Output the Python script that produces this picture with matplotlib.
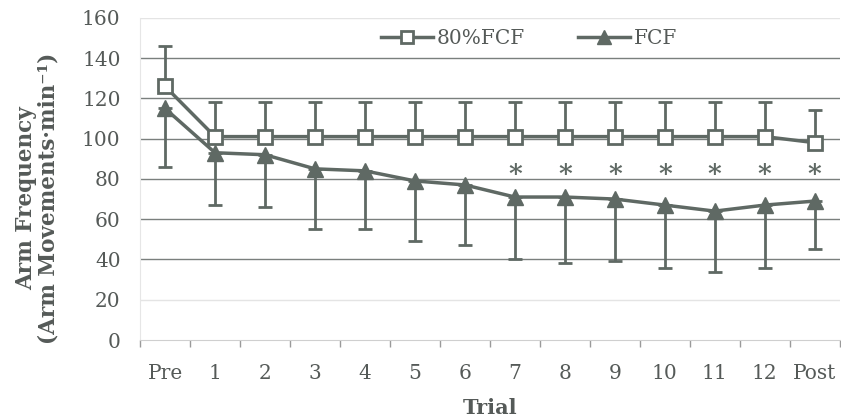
import matplotlib.pyplot as plt
from matplotlib.lines import Line2D
import numpy as np

# data
trials = ['Pre', '1', '2', '3', '4', '5', '6', '7', '8', '9', '10', '11', '12', 'Post']
fcf80 = [126, 101, 101, 101, 101, 101, 101, 101, 101, 101, 101, 101, 101, 98]
fcf80_up = [20, 17, 17, 17, 17, 17, 17, 17, 17, 17, 17, 17, 17, 16]
fcf = [115, 93, 92, 85, 84, 79, 77, 71, 71, 70, 67, 64, 67, 69]
fcf_down = [29, 26, 26, 30, 29, 30, 30, 31, 33, 31, 31, 30, 31, 24]
star_trials = ['7', '8', '9', '10', '11', '12', 'Post']
star_y = 82

col = '#5f6964'
txt = '#555a58'

plt.rcParams['font.family'] = ['DejaVu Serif']

fig = plt.figure(figsize=(8.41, 4.19), dpi=100)
ax = fig.add_axes([0.1665, 0.1885, 0.832, 0.769])

x = np.arange(len(trials))

ax.errorbar(x, fcf80, yerr=[np.zeros(len(x)), fcf80_up], color=col, lw=2.5,
            marker='s', ms=10, mfc='white', mec=col, mew=2, capsize=5,
            elinewidth=2, capthick=2, zorder=3)
ax.errorbar(x, fcf, yerr=[fcf_down, np.zeros(len(x))], color=col, lw=2.5,
            marker='^', ms=12, mfc=col, mec=col, capsize=5,
            elinewidth=2, capthick=2, zorder=3)

for t in star_trials:
    ax.text(trials.index(t), star_y, '*', ha='center', va='center',
            fontsize=19, color=col, fontweight='bold')

ax.set_xlim(-0.5, len(trials) - 0.5)
ax.set_ylim(0, 160)
ax.set_yticks(np.arange(0, 161, 20))
ax.set_xticks(x)
ax.set_xticklabels(trials)
ax.set_xticks(np.arange(-0.5, len(trials), 1), minor=True)

for v in range(40, 141, 20):
    ax.axhline(v, color='#7a7f7d', lw=1, zorder=1)
for v in (20, 160):
    ax.axhline(v, color='#e4e4e4', lw=1, zorder=1)

for s in ['top', 'right']:
    ax.spines[s].set_visible(False)
ax.spines['left'].set_color('#e6e6e6')
ax.spines['bottom'].set_color('#cfcfcf')

ax.tick_params(axis='x', which='major', length=0, pad=17, labelsize=14.5, labelcolor=txt)
ax.tick_params(axis='x', which='minor', length=5, color='#9a9a9a', width=1)
ax.tick_params(axis='y', length=0, pad=14, labelsize=14.5, labelcolor=txt)

ax.set_xlabel('Trial', fontsize=15, fontweight='bold', color=txt, labelpad=11)
ax.set_ylabel('Arm Frequency\n(Arm Movements·min⁻¹)', fontsize=15.5,
              fontweight='bold', color=txt, linespacing=1.05)
ax.yaxis.set_label_coords(-0.115, 0.44)

handles = [Line2D([], [], color=col, lw=2.5, marker='s', ms=9, mfc='white', mec=col, mew=2),
           Line2D([], [], color=col, lw=2.5, marker='^', ms=10, mfc=col, mec=col)]
leg = ax.legend(handles, ['80%FCF', 'FCF'], loc='upper center',
                bbox_to_anchor=(0.556, 1.02), ncol=2, frameon=False, fontsize=14.5,
                handlelength=2.6, columnspacing=2.6, handletextpad=0.2)
for t in leg.get_texts():
    t.set_color(txt)

fig.savefig('out.png', dpi=100)
